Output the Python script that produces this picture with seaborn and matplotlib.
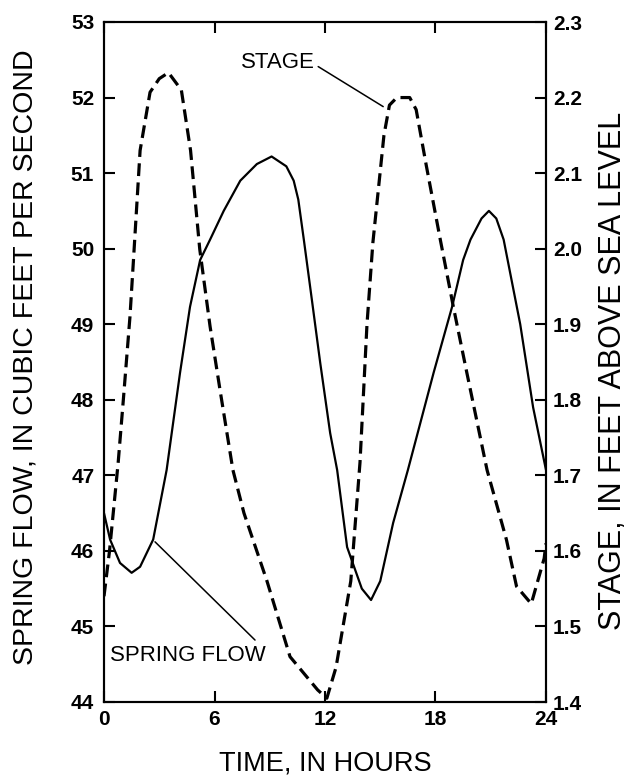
import matplotlib
matplotlib.use("Agg")
import matplotlib.pyplot as plt
from matplotlib.ticker import FormatStrFormatter, FixedLocator
import seaborn as sns

# ---- data ----
flow_hours = [0, 0.33, 0.87, 1.5, 1.96, 2.67, 3.4, 4.13, 4.67, 5.22, 5.76, 6.5,
              7.4, 8.3, 9.1, 9.9, 10.3, 10.55, 10.85, 11.3, 11.74, 12.28, 12.66,
              13.2, 14.0, 14.5, 15.0, 15.7, 16.5, 17.9, 18.9, 19.5, 19.9, 20.5,
              20.9, 21.3, 21.7, 22.6, 23.3, 24]
spring_flow = [46.5, 46.15, 45.84, 45.71, 45.79, 46.15, 47.07, 48.36, 49.23,
               49.85, 50.12, 50.5, 50.9, 51.12, 51.22, 51.09, 50.9, 50.65, 50.12,
               49.3, 48.49, 47.56, 47.07, 46.05, 45.5, 45.35, 45.6, 46.37, 47.07,
               48.36, 49.23, 49.85, 50.12, 50.4, 50.5, 50.4, 50.12, 49.0, 47.9,
               47.07]

stage_hours = [0, 0.3, 0.77, 1.05, 1.41, 1.6, 1.96, 2.5, 3.0, 3.5, 4.2, 4.7,
               5.2, 5.76, 6.3, 7.0, 7.6, 8.85, 10.1, 11.6, 12.1, 12.6, 13.4,
               13.9, 14.28, 14.6, 15.2, 15.5, 15.9, 16.6, 16.95, 17.5, 18.26,
               18.97, 19.7, 20.8, 21.85, 22.4, 23.2, 23.9, 24]
stage = [1.54, 1.60, 1.717, 1.80, 1.91, 1.985, 2.13, 2.207, 2.225, 2.233, 2.21,
         2.13, 1.999, 1.897, 1.813, 1.707, 1.65, 1.56, 1.46, 1.416, 1.405,
         1.446, 1.56, 1.717, 1.90, 2.008, 2.15, 2.19, 2.20, 2.20, 2.184, 2.11,
         2.012, 1.923, 1.836, 1.707, 1.615, 1.553, 1.53, 1.59, 1.61]

x_ticks = [0, 6, 12, 18, 24]
flow_ticks = [44, 45, 46, 47, 48, 49, 50, 51, 52, 53]
stage_ticks = [1.4, 1.5, 1.6, 1.7, 1.8, 1.9, 2.0, 2.1, 2.2, 2.3]

sns.set_style("ticks")
plt.rcParams["font.family"] = ["Liberation Sans", "DejaVu Sans"]
plt.rcParams["text.color"] = "black"
plt.rcParams["axes.labelcolor"] = "black"
plt.rcParams["xtick.color"] = "black"
plt.rcParams["ytick.color"] = "black"

fig = plt.figure(figsize=(6.33, 7.8), dpi=100)
ax = fig.add_axes([104 / 633, 1 - 702 / 780, 442 / 633, 680 / 780])
ax2 = ax.twinx()

sns.lineplot(x=flow_hours, y=spring_flow, ax=ax, color="black", lw=1.6,
             sort=False, estimator=None)
sns.lineplot(x=stage_hours, y=stage, ax=ax2, color="black", lw=2.3,
             ls=(0, (4, 2)), sort=False, estimator=None)

ax.set_xlim(0, 24)
ax.set_ylim(44, 53)
ax2.set_ylim(1.4, 2.3)
ax.xaxis.set_major_locator(FixedLocator(x_ticks))
ax.yaxis.set_major_locator(FixedLocator(flow_ticks))
ax2.yaxis.set_major_locator(FixedLocator(stage_ticks))
ax2.yaxis.set_major_formatter(FormatStrFormatter("%.1f"))

for a in (ax, ax2):
    for s in a.spines.values():
        s.set_visible(True)
        s.set_linewidth(1.5)
        s.set_color("black")

ax.tick_params(axis="x", direction="in", length=8, width=1.5, top=True,
               pad=6, labelsize=15, colors="black")
ax.tick_params(axis="y", direction="in", length=8, width=1.5, right=False,
               pad=7, labelsize=15, colors="black")
ax2.tick_params(axis="y", direction="in", length=8, width=1.5, pad=5,
                labelsize=15, colors="black")
for lab in ax.get_xticklabels() + ax.get_yticklabels() + ax2.get_yticklabels():
    lab.set_fontweight("bold")

ax.set_xlabel("TIME, IN HOURS", fontsize=19.5, color="black")
ax.xaxis.set_label_coords(0.5, (702 - 763) / 680)
ax.xaxis.label.set_va("center")
ax.set_ylabel("SPRING FLOW, IN CUBIC FEET PER SECOND", fontsize=20.5,
              color="black")
ax.yaxis.set_label_coords((26 - 104) / 442, (702 - 357) / 680)
ax.yaxis.label.set_va("center")
ax2.set_ylabel("STAGE, IN FEET ABOVE SEA LEVEL", fontsize=22, rotation=90,
               color="black")
ax2.yaxis.set_label_coords((613 - 104) / 442, (702 - 371) / 680)
ax2.yaxis.label.set_va("center")

ax.text(9.46, 52.46, "STAGE", fontsize=16, ha="center", va="center",
        color="black")
ax.annotate("", xy=(15.16, 51.88), xytext=(11.63, 52.41),
            arrowprops=dict(arrowstyle="-", lw=1.1, color="black",
                            shrinkA=0, shrinkB=0))
ax.text(4.57, 44.62, "SPRING FLOW", fontsize=16, ha="center", va="center",
        color="black")
ax.annotate("", xy=(2.77, 46.12), xytext=(8.2, 44.82),
            arrowprops=dict(arrowstyle="-", lw=1.1, color="black",
                            shrinkA=0, shrinkB=0))

fig.savefig("out.png", dpi=100)
